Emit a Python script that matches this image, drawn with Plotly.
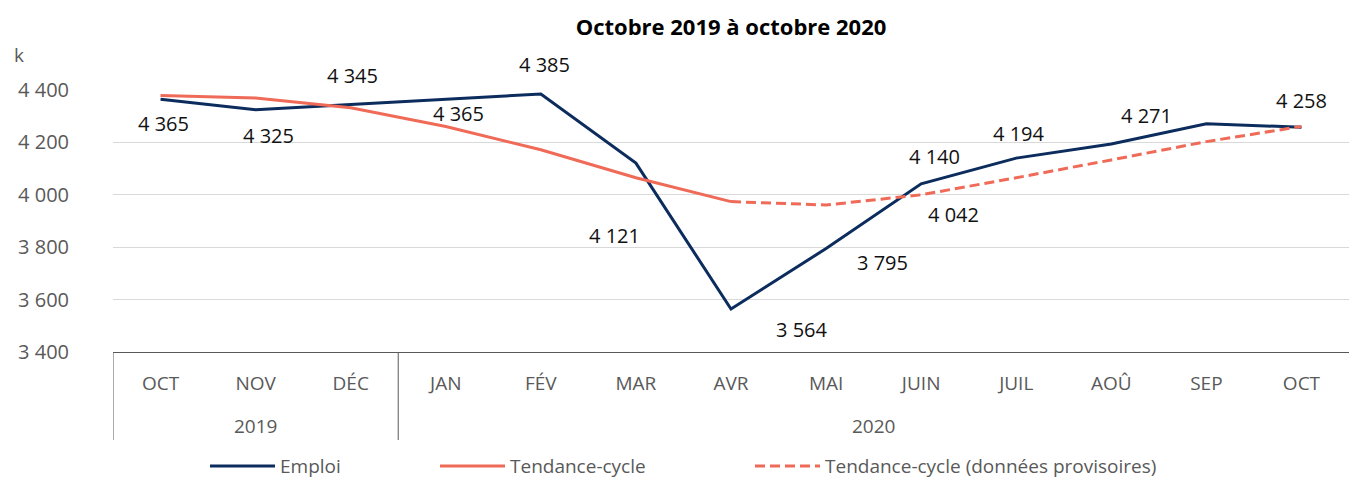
import plotly.graph_objects as go

months = ["OCT", "NOV", "DÉC", "JAN", "FÉV", "MAR", "AVR", "MAI", "JUIN", "JUIL", "AOÛ", "SEP", "OCT"]
years = ["2019", "2020"]
year_spans = [(0, 2), (3, 12)]
emploi = [4365, 4325, 4345, 4365, 4385, 4121, 3564, 3795, 4042, 4140, 4194, 4271, 4258]
tendance = [4379, 4369, 4332, 4261, 4172, 4065, 3974, None, None, None, None, None, None]
tendance_prov = [None, None, None, None, None, None, 3974, 3961, 4000, 4065, 4133, 4203, 4261]
y_ticks = [3400, 3600, 3800, 4000, 4200, 4400]

# label offsets (px) relative to each Emploi point (dx right, dy down)
label_dx = [3, 13, 2, 13, 4, -21, 71, 56, 32, -82, -92, -60, 0]
label_dy = [24, 26, -29, 14, -29, 72, 20, 14, 31, -2, -10, -8, -27]

NAVY = "#0B2C5C"
ORANGE = "#EF6A57"
FONT = "Open Sans"
DASH = "10px,5px"

x = list(range(len(months)))

fig = go.Figure()
fig.add_trace(go.Scatter(x=x, y=emploi, mode="lines", name="Emploi",
                         line=dict(color=NAVY, width=3), showlegend=False))
fig.add_trace(go.Scatter(x=x, y=tendance, mode="lines", name="Tendance-cycle",
                         line=dict(color=ORANGE, width=3), showlegend=False))
fig.add_trace(go.Scatter(x=x, y=tendance_prov, mode="lines",
                         name="Tendance-cycle (données provisoires)",
                         line=dict(color=ORANGE, width=3, dash=DASH), showlegend=False))

L, R, T, B = 113, 0, 90, 126
W, H = 1349, 478
pw = W - L - R
ph = H - T - B

annotations = []
for i, v in enumerate(emploi):
    annotations.append(dict(x=i, y=v, xref="x", yref="y", showarrow=False,
                            xanchor="center", yanchor="middle",
                            text=f"{v:,}".replace(",", " "),
                            xshift=label_dx[i], yshift=-label_dy[i],
                            font=dict(family=FONT, size=20, color="#111111")))

shapes = []
# year labels and separators
for yr, (a, b) in zip(years, year_spans):
    annotations.append(dict(x=(a + b) / 2, y=(352 - 426) / ph, xref="x", yref="paper",
                            xanchor="center", yanchor="middle",
                            showarrow=False, text=yr,
                            font=dict(family=FONT, size=19, color="#595959")))
    shapes.append(dict(type="line", xref="x", yref="paper", x0=a - 0.5, x1=a - 0.5,
                       y0=0, y1=(352 - 440) / ph, line=dict(color="#595959", width=1)))

# "k" unit label
annotations.append(dict(x=(12 - L) / pw, y=(352 - 55) / ph, xref="paper", yref="paper",
                        showarrow=False, text="k", xanchor="left", yanchor="middle",
                        font=dict(family=FONT, size=19, color="#595959")))

# manual legend
legend_items = [("Emploi", NAVY, "solid", 210),
                ("Tendance-cycle", ORANGE, "solid", 440),
                ("Tendance-cycle (données provisoires)", ORANGE, DASH, 755)]
ly = (352 - 466) / ph
for name, col, dash, px0 in legend_items:
    shapes.append(dict(type="line", xref="paper", yref="paper",
                       x0=(px0 - L) / pw, x1=(px0 + 65 - L) / pw, y0=ly, y1=ly,
                       line=dict(color=col, width=3, dash=dash)))
    annotations.append(dict(x=(px0 + 68 - L) / pw, y=ly, xref="paper", yref="paper",
                            xanchor="left", yanchor="middle", showarrow=False, text=name,
                            font=dict(family=FONT, size=19, color="#595959")))

fig.update_layout(
    width=W, height=H,
    margin=dict(l=L, r=R, t=T, b=B, pad=0),
    paper_bgcolor="white", plot_bgcolor="white",
    title=dict(text="<b>Octobre 2019 à octobre 2020</b>", x=0.5, xref="paper",
               xanchor="center", y=1 - 27 / H, yanchor="middle",
               font=dict(family=FONT, size=22, color="#000000")),
    font=dict(family=FONT),
    xaxis=dict(range=[-0.5, len(months) - 0.5], tickvals=x, ticktext=months,
               showgrid=False, zeroline=False, showline=True, linecolor="#595959",
               linewidth=1, ticks="outside", ticklen=14, tickcolor="rgba(0,0,0,0)",
               tickfont=dict(family=FONT, size=19, color="#595959"), fixedrange=True),
    yaxis=dict(range=[3400, 4400], tickvals=y_ticks,
               ticktext=[f"{v:,}".replace(",", " ") for v in y_ticks],
               showgrid=True, gridcolor="#D9D9D9", gridwidth=1, zeroline=False,
               showline=False, ticks="", ticklabelstandoff=43,
               tickfont=dict(family=FONT, size=20, color="#595959")),
    annotations=annotations,
    shapes=shapes,
    showlegend=False,
)

fig.write_html("out.html")
